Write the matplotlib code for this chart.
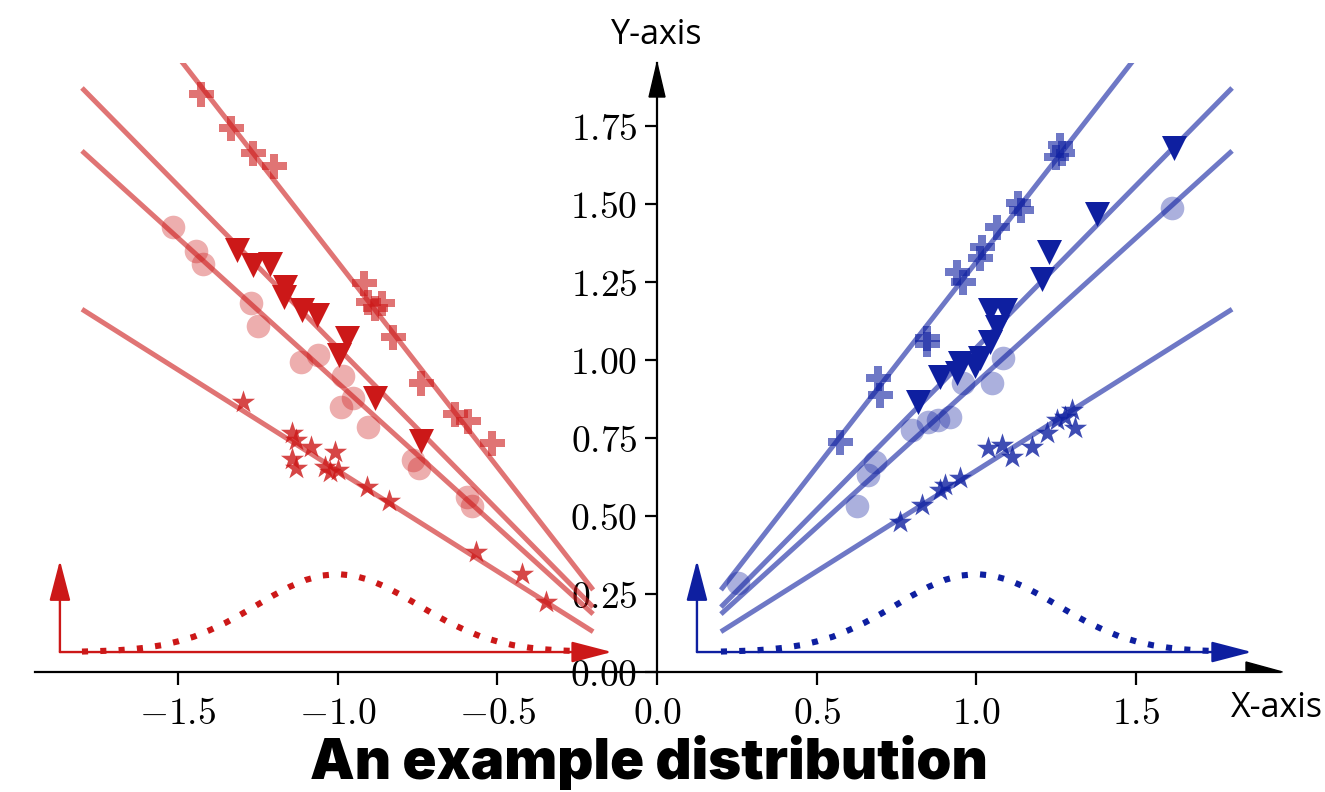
import matplotlib
matplotlib.use("Agg")
import matplotlib.pyplot as plt
from matplotlib.patches import Polygon

# ---------------- data ----------------
red_cross_x = [-1.427, -1.333, -1.264, -1.199, -0.917, -0.905, -0.883, -0.861, -0.826, -0.739, -0.632, -0.592, -0.516]
red_cross_y = [1.853, 1.744, 1.663, 1.622, 1.247, 1.186, 1.167, 1.183, 1.074, 0.926, 0.827, 0.804, 0.734]
red_tri_x = [-1.315, -1.264, -1.211, -1.164, -1.167, -1.111, -1.064, -0.970, -0.995, -0.883, -0.739]
red_tri_y = [1.353, 1.304, 1.308, 1.234, 1.202, 1.160, 1.144, 1.071, 1.016, 0.878, 0.740]
red_circ_x = [-1.515, -1.443, -1.421, -1.271, -1.249, -1.114, -1.061, -0.983, -0.951, -0.989, -0.905, -0.764, -0.745, -0.595, -0.579]
red_circ_y = [1.426, 1.349, 1.308, 1.183, 1.109, 0.994, 1.016, 0.949, 0.878, 0.849, 0.785, 0.679, 0.654, 0.561, 0.532]
red_star_x = [-1.296, -1.142, -1.130, -1.083, -1.008, -1.142, -1.130, -1.039, -1.023, -0.998, -0.908, -0.839, -0.567, -0.423, -0.347]
red_star_y = [0.865, 0.766, 0.744, 0.721, 0.705, 0.683, 0.654, 0.657, 0.641, 0.647, 0.593, 0.548, 0.385, 0.314, 0.224]

blue_cross_x = [1.261, 1.268, 1.249, 1.130, 1.139, 1.064, 1.017, 1.011, 0.939, 0.958, 0.845, 0.845, 0.692, 0.698, 0.573]
blue_cross_y = [1.689, 1.663, 1.651, 1.503, 1.481, 1.426, 1.362, 1.327, 1.282, 1.250, 1.071, 1.051, 0.942, 0.888, 0.737]
blue_tri_x = [1.618, 1.377, 1.227, 1.205, 1.042, 1.089, 1.064, 1.042, 1.011, 0.948, 0.939, 0.886, 0.817, 0.995]
blue_tri_y = [1.679, 1.468, 1.346, 1.260, 1.160, 1.160, 1.106, 1.058, 1.006, 0.990, 0.958, 0.946, 0.865, 0.981]
blue_circ_x = [1.612, 1.083, 1.049, 0.958, 0.917, 0.880, 0.848, 0.798, 0.682, 0.660, 0.626, 0.254]
blue_circ_y = [1.487, 1.006, 0.926, 0.926, 0.817, 0.808, 0.801, 0.776, 0.673, 0.631, 0.532, 0.285]
blue_star_x = [0.761, 0.829, 0.886, 0.901, 0.948, 1.036, 1.080, 1.111, 1.174, 1.221, 1.252, 1.277, 1.299, 1.308]
blue_star_y = [0.481, 0.535, 0.583, 0.599, 0.622, 0.718, 0.728, 0.689, 0.721, 0.766, 0.808, 0.817, 0.840, 0.782]

# fitted line slopes (cross, triangle, circle, star)
fit_slopes = [1.315, 1.040, 0.928, 0.646]
red_line_x = [-1.8, -0.2]
blue_line_x = [0.2, 1.8]

# distribution curve (offset from centre, height above baseline)
dist_dx = [-0.80, -0.75, -0.70, -0.65, -0.60, -0.55, -0.50, -0.45, -0.40, -0.35, -0.30, -0.25, -0.20, -0.15, -0.10, -0.05,
           0.00, 0.05, 0.10, 0.15, 0.20, 0.25, 0.30, 0.35, 0.40, 0.45, 0.50, 0.55, 0.60, 0.65, 0.70, 0.75, 0.80]
dist_h = [0.0015, 0.003, 0.005, 0.0085, 0.014, 0.022, 0.034, 0.049, 0.070, 0.094, 0.122, 0.152, 0.182, 0.209, 0.231, 0.245,
          0.250, 0.245, 0.231, 0.209, 0.182, 0.152, 0.122, 0.094, 0.070, 0.049, 0.034, 0.022, 0.014, 0.0085, 0.005, 0.003, 0.0015]
dist_centres = [-1.0, 1.0]
dist_base = 0.064
dist_origin_x = [-1.869, 0.125]
dist_xtip = [-0.141, 1.862]
dist_ytip = 0.358

xticks = [-1.5, -1.0, -0.5, 0.0, 0.5, 1.0, 1.5]
xticklabels = [r"$-1.5$", r"$-1.0$", r"$-0.5$", r"$0.0$", r"$0.5$", r"$1.0$", r"$1.5$"]
yticks = [0.0, 0.25, 0.5, 0.75, 1.0, 1.25, 1.5, 1.75]
yticklabels = [r"$0.00$", r"$0.25$", r"$0.50$", r"$0.75$", r"$1.00$", r"$1.25$", r"$1.50$", r"$1.75$"]

RED = "#CC1818"
BLUE = "#0E1FA0"

plt.rcParams["mathtext.fontset"] = "cm"

W, H = 1325, 792
fig = plt.figure(figsize=(W / 100, H / 100), dpi=100)
ax = fig.add_axes([35 / W, 120 / H, 1245 / W, 609 / H])
ax.set_xlim(-1.947, 1.950)
ax.set_ylim(0, 1.952)

for s in ["top", "right"]:
    ax.spines[s].set_visible(False)
ax.spines["left"].set_position(("data", 0))
for s in ["left", "bottom"]:
    ax.spines[s].set_linewidth(1.6)

ax.set_xticks(xticks)
ax.set_xticklabels(xticklabels)
ax.set_yticks(yticks)
ax.set_yticklabels(yticklabels)
ax.tick_params(axis="both", labelsize=27, length=9, width=1.6, direction="out")
ax.tick_params(axis="x", pad=8)
ax.tick_params(axis="y", pad=5)

# fitted lines
for side_x, color in [(red_line_x, RED), (blue_line_x, BLUE)]:
    for k in fit_slopes:
        yy = [abs(v) * k for v in side_x]
        ax.plot(side_x, yy, color=color, alpha=0.6, lw=3.6, solid_capstyle="butt", zorder=2)


def pts(ms):
    return ms ** 2


for color, cx, cy, tx, ty, ox, oy, sx, sy in [
    (RED, red_cross_x, red_cross_y, red_tri_x, red_tri_y, red_circ_x, red_circ_y, red_star_x, red_star_y),
    (BLUE, blue_cross_x, blue_cross_y, blue_tri_x, blue_tri_y, blue_circ_x, blue_circ_y, blue_star_x, blue_star_y),
]:
    ax.scatter(cx, cy, marker="P", s=pts(18), color=color, alpha=0.6, linewidths=0, zorder=3)
    ax.scatter(ox, oy, marker="o", s=pts(17), color=color, alpha=0.35, linewidths=0, zorder=3)
    ax.scatter(sx, sy, marker="*", s=pts(17.5), color=color, alpha=0.8, linewidths=0, zorder=3)
    ax.scatter(tx, ty, marker="v", s=pts(18), color=color, alpha=1.0, linewidths=0, zorder=4)

# distribution insets
for centre, ox, xt, color in zip(dist_centres, dist_origin_x, dist_xtip, [RED, BLUE]):
    arr = dict(arrowstyle="-|>,head_length=25,head_width=6.5", color=color, lw=1.7,
               shrinkA=0, shrinkB=0, mutation_scale=1)
    ax.annotate("", xy=(xt, dist_base), xytext=(ox, dist_base), arrowprops=arr, zorder=3)
    ax.annotate("", xy=(ox, dist_ytip), xytext=(ox, dist_base), arrowprops=arr, zorder=3)
    ax.plot([centre + d for d in dist_dx], [dist_base + h for h in dist_h], color=color,
            lw=4.4, linestyle=(0, (1, 2.0)), dash_capstyle="butt", zorder=3)

# axis arrows
ax.add_patch(Polygon([[-0.025, 1 - 34 / 609], [0.025, 1 - 34 / 609], [0, 1.0]], closed=True,
                     transform=ax.get_xaxis_transform(), color="black", clip_on=False, zorder=5))
ax.add_patch(Polygon([[1 - 34 / 1245, 0], [1 - 34 / 1245, 10 / 312], [1.002, 0]], closed=True,
                     transform=ax.get_yaxis_transform(), color="black", clip_on=False, zorder=5))

fig.text(657 / W, 1 - 35 / H, "Y-axis", ha="center", va="center", fontsize=24.5, family="Open Sans")
fig.text(1277 / W, 1 - 708 / H, "X-axis", ha="center", va="center", fontsize=24.5, family="Open Sans")
fig.text(649 / W, 1 - 779 / H, "An example distribution", ha="center", va="baseline",
         fontsize=40.5, family="Inter", weight=900)

fig.savefig("out.png", dpi=100)
